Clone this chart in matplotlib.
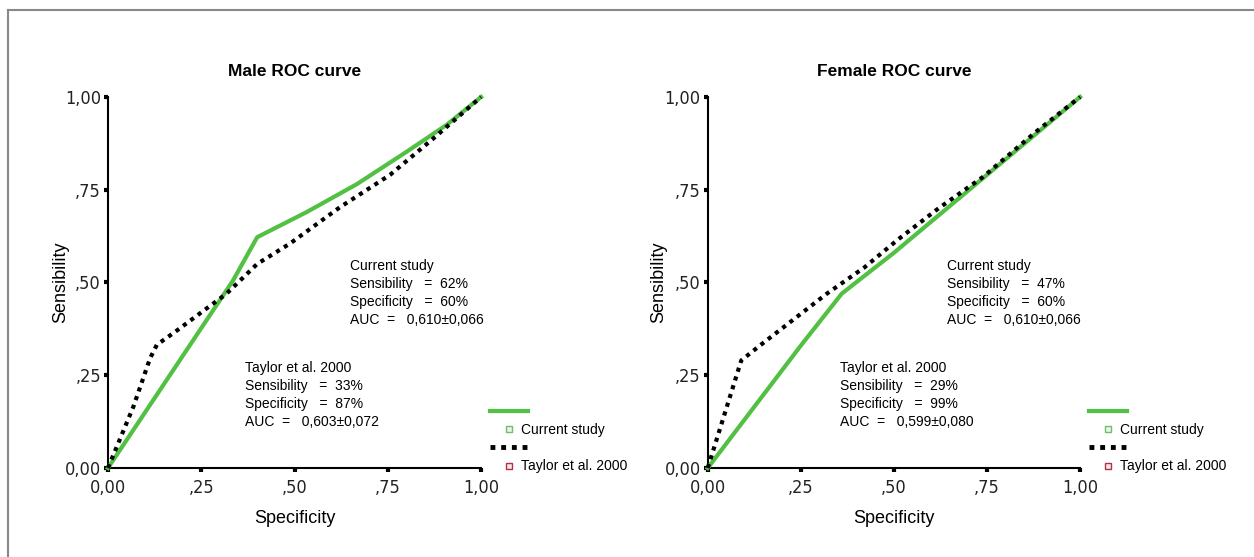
import numpy as np
import matplotlib.pyplot as plt
from matplotlib.lines import Line2D

# ROC curves (x axis labelled "Specificity", y = sensibility)
male_cur_x = [0.0, 0.335, 0.40, 0.533, 0.667, 0.80, 0.908, 1.0]
male_cur_y = [0.0, 0.505, 0.622, 0.69, 0.765, 0.852, 0.925, 1.0]
male_tay_x = [0.0, 0.068, 0.113, 0.131, 0.18, 0.247, 0.318, 0.40, 0.488, 0.622, 0.756, 0.872, 1.0]
male_tay_y = [0.0, 0.165, 0.296, 0.332, 0.367, 0.417, 0.47, 0.55, 0.605, 0.703, 0.79, 0.888, 1.0]

female_cur_x = [0.0, 0.25, 0.36, 0.50, 0.75, 1.0]
female_cur_y = [0.0, 0.33, 0.47, 0.58, 0.79, 1.0]
female_tay_x = [0.0, 0.09, 0.14, 0.23, 0.32, 0.42, 0.51, 0.62, 0.74, 0.88, 1.0]
female_tay_y = [0.0, 0.29, 0.33, 0.40, 0.47, 0.54, 0.615, 0.70, 0.785, 0.905, 1.0]

ticks = [0.0, 0.25, 0.5, 0.75, 1.0]
tick_labels = ['0,00', ',25', ',50', ',75', '1,00']

titles = ['Male ROC curve', 'Female ROC curve']
cur_text = [['Current study', 'Sensibility   =  62%', 'Specificity   =  60%', 'AUC  =   0,610\u00b10,066'],
            ['Current study', 'Sensibility   =  47%', 'Specificity   =  60%', 'AUC  =   0,610\u00b10,066']]
tay_text = [['Taylor et al. 2000', 'Sensibility   =  33%', 'Specificity   =  87%', 'AUC  =   0,603\u00b10,072'],
            ['Taylor et al. 2000', 'Sensibility   =  29%', 'Specificity   =  99%', 'AUC  =   0,599\u00b10,080']]

green = '#52c043'
plt.rcParams['font.family'] = ['Liberation Sans', 'DejaVu Sans']

fig = plt.figure(figsize=(12.54, 5.57), dpi=100)
ax1 = fig.add_axes([0.0861, 0.1598, 0.2975, 0.6661])
ax2 = fig.add_axes([0.5644, 0.1598, 0.2969, 0.6661])

data = [(male_cur_x, male_cur_y, male_tay_x, male_tay_y),
        (female_cur_x, female_cur_y, female_tay_x, female_tay_y)]

for i, ax in enumerate([ax1, ax2]):
    cx, cy, tx, ty = data[i]
    ax.plot(cx, cy, color=green, lw=3, clip_on=False, zorder=3, solid_joinstyle='round')
    ax.plot(tx, ty, color='black', lw=3, linestyle=(0, (1, 1.2)), clip_on=False, zorder=4)
    ax.set_xlim(0, 1)
    ax.set_ylim(0, 1)
    ax.set_xticks(ticks)
    ax.set_yticks(ticks)
    ax.set_xticklabels(tick_labels, family='DejaVu Sans', stretch='condensed', fontsize=13, color='#222222')
    ax.set_yticklabels(tick_labels, family='DejaVu Sans', stretch='condensed', fontsize=13, color='#222222')
    ax.tick_params(direction='out', length=3, width=3)
    ax.tick_params(axis='x', pad=5)
    ax.tick_params(axis='y', pad=2)
    for s in ['top', 'right']:
        ax.spines[s].set_visible(False)
    for s in ['left', 'bottom']:
        ax.spines[s].set_linewidth(1.5)
    ax.set_title(titles[i], fontsize=12.5, fontweight='bold', pad=15)
    ax.set_xlabel('Specificity', fontsize=13, labelpad=9)
    ax.set_ylabel('Sensibility', fontsize=13, va='center')
    ax.yaxis.set_label_coords([-0.128, -0.133][i], 0.5)

    # text boxes
    xc = [0.649, 0.643][i]
    xt = [0.367, 0.355][i]
    for j, line in enumerate(cur_text[i]):
        ax.text(xc, 0.563 - j * 0.0485, line, fontsize=10, va='top', ha='left')
    for j, line in enumerate(tay_text[i]):
        ax.text(xt, 0.288 - j * 0.0485, line, fontsize=10, va='top', ha='left')

    handles = [Line2D([], [], color=green, lw=3),
               Line2D([], [], marker='s', ls='none', ms=5, mfc='#eaf6e8', mec='#6cbf6c', mew=1),
               Line2D([], [], color='black', lw=3.5, linestyle=(0, (1, 1.2))),
               Line2D([], [], marker='s', ls='none', ms=5, mfc='#f8e8ea', mec='#b0304a', mew=1)]
    labels = ['', 'Current study', '', 'Taylor et al. 2000']
    ax.legend(handles, labels, loc='upper left', bbox_to_anchor=(1.025, 0.17),
              frameon=False, fontsize=10, handlelength=2.7, handletextpad=-0.5,
              labelspacing=0.3, borderpad=0, borderaxespad=0)

# grey frame around the figure (left and top edges only visible)
fig.add_artist(Line2D([8 / 1254, 8 / 1254], [0, 1 - 10 / 557], color='#888888', lw=1.5))
fig.add_artist(Line2D([8 / 1254, 1], [1 - 10 / 557, 1 - 10 / 557], color='#888888', lw=1.5))

fig.savefig('out.png', dpi=100)
